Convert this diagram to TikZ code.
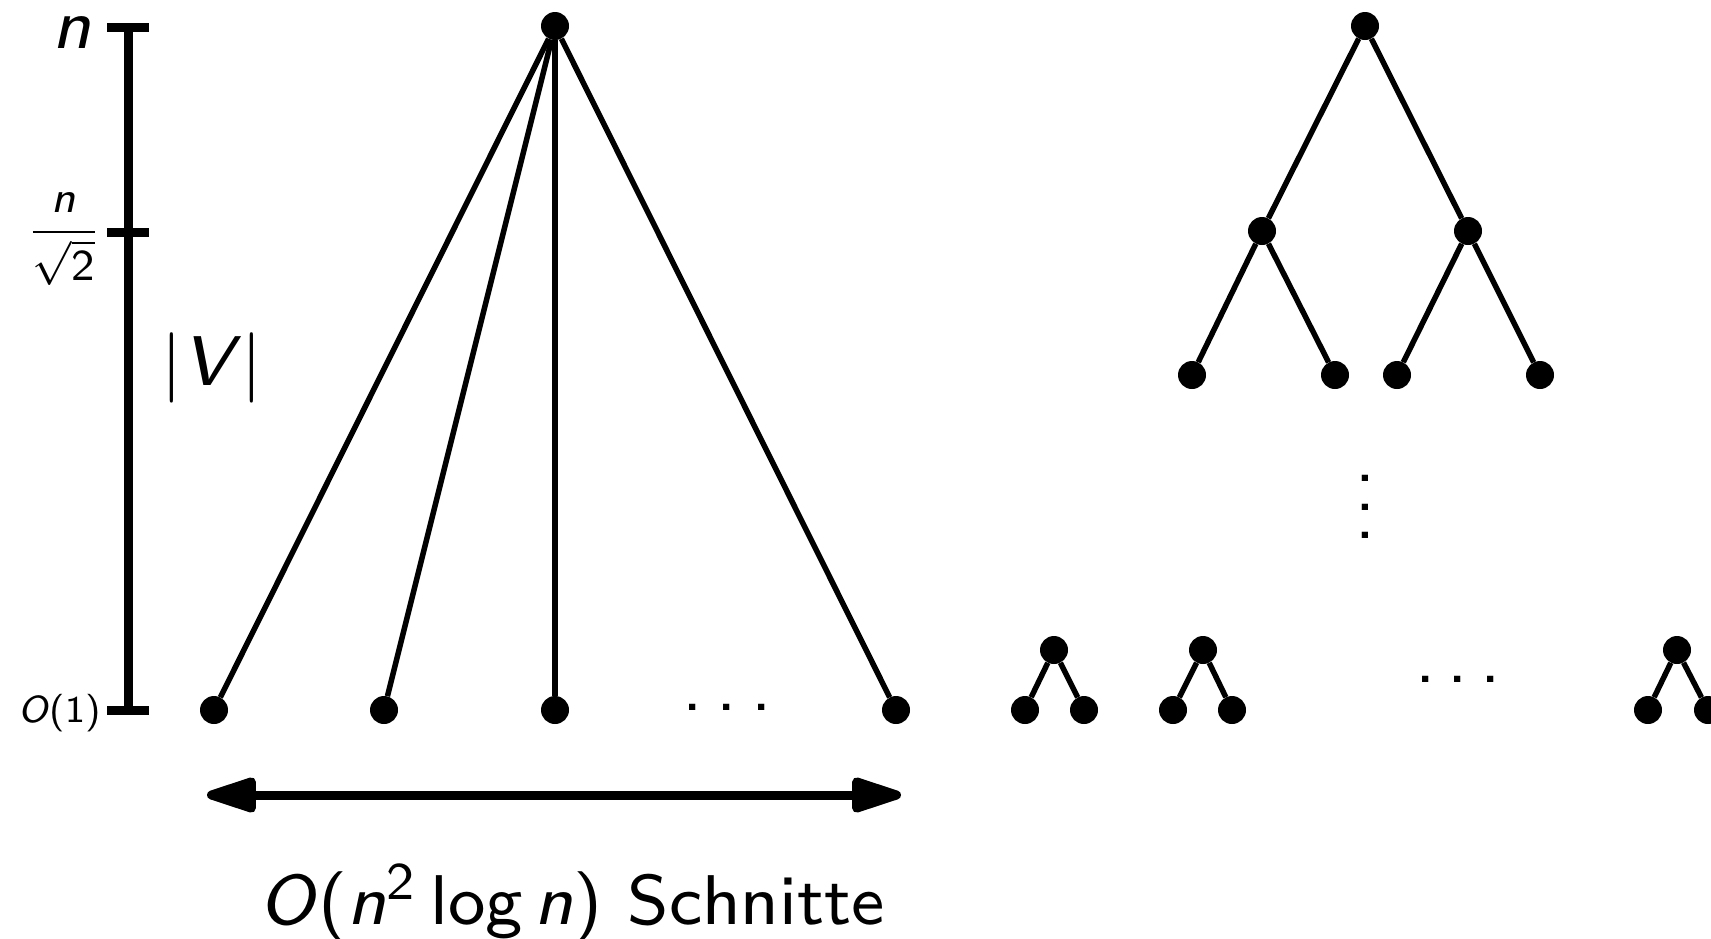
\RequirePackage{fix-cm}
\documentclass[tikz,border=0pt]{standalone}
\usetikzlibrary{arrows.meta}
\tikzset{
  vert/.style={circle,fill=black,inner sep=0pt,minimum size=28pt},
  edgeline/.style={line width=5.5pt},
  scaleline/.style={line width=9pt},
  lbl/.style={inner sep=0pt},
  bigarrow/.style={line width=9pt,{Triangle[length=60pt,width=36pt,round]}-{Triangle[length=60pt,width=36pt,round]}},
}
\newcommand{\dtxt}[2]{\scalebox{#1}{\fontsize{8}{9.6}\selectfont\sffamily #2}}
\newcommand{\sfi}[1]{\textsf{\textit{#1}}}
\begin{document}
\begin{tikzpicture}[x=1pt,y=-1pt]
\useasboundingbox (0,0) rectangle (1711,938);
% scale
\coordinate (st) at (128,27);
\coordinate (sm) at (128,232);
\coordinate (sb) at (128,710);
\draw[scaleline] (st) -- (sb);
\draw[scaleline] ([xshift=-21pt]st) -- ([xshift=21pt]st);
\draw[scaleline] ([xshift=-21pt]sm) -- ([xshift=21pt]sm);
\draw[scaleline] ([xshift=-21pt]sb) -- ([xshift=21pt]sb);
\node[lbl,anchor=base] (ln) at (72,48) {\dtxt{8.8}{\textit{n}}};
\node[lbl,anchor=base east] (lfrac) at (102,243) {\dtxt{5.5}{$\displaystyle\frac{\mbox{\sfi{n}}}{\sqrt{\mbox{\textsf{2}}}}$}};
\node[lbl,anchor=base east] (lo) at (101,722) {\dtxt{4.7}{\textit{O}(1)}};
\node[lbl] (lv) at (212,368) {\dtxt{8.8}{$|\mbox{\sfi{V}}|$}};
% big tree
\node[vert] (r) at (555,26) {};
\node[vert] (l1) at (214,710) {};
\node[vert] (l2) at (384,710) {};
\node[vert] (l3) at (555,710) {};
\node[vert] (l4) at (896,710) {};
\node[lbl] (hd) at (727,707) {\fontsize{78}{80}\selectfont\textsf{.\kern14pt.\kern14pt.}};
\foreach \l in {l1,l2,l3,l4} \draw[edgeline] (r) -- (\l);
% arrow
\coordinate (a1) at (207,795);
\coordinate (a2) at (901,795);
\draw[bigarrow] (a1) -- (a2);
\node[lbl,anchor=base] (cap) at (572,924) {\dtxt{8.8}{\textit{O}(\textit{n}\textsuperscript{2}\,log\,\textit{n}) Schnitte}};
% right tree
\node[vert] (R) at (1365,26) {};
\node[vert] (A) at (1262,231) {};
\node[vert] (B) at (1468,231) {};
\node[vert] (A1) at (1192,375) {};
\node[vert] (A2) at (1335,375) {};
\node[vert] (B1) at (1397,375) {};
\node[vert] (B2) at (1540,375) {};
\draw[edgeline] (R) -- (A);
\draw[edgeline] (R) -- (B);
\draw[edgeline] (A) -- (A1);
\draw[edgeline] (A) -- (A2);
\draw[edgeline] (B) -- (B1);
\draw[edgeline] (B) -- (B2);
\node[lbl,rotate=90] (vd) at (1365,507) {\fontsize{78}{80}\selectfont\textsf{.\kern8.3pt.\kern8.3pt.}};
% small trees
\node[vert] (t1) at (1054,650) {};
\node[vert] (t1a) at (1025,710) {};
\node[vert] (t1b) at (1084,710) {};
\node[vert] (t2) at (1203,650) {};
\node[vert] (t2a) at (1173,710) {};
\node[vert] (t2b) at (1232,710) {};
\node[vert] (t3) at (1677,650) {};
\node[vert] (t3a) at (1648,710) {};
\node[vert] (t3b) at (1708,710) {};
\draw[edgeline] (t1) -- (t1a);
\draw[edgeline] (t1) -- (t1b);
\draw[edgeline] (t2) -- (t2a);
\draw[edgeline] (t2) -- (t2b);
\draw[edgeline] (t3) -- (t3a);
\draw[edgeline] (t3) -- (t3b);
\node[lbl] (sd) at (1458,679) {\fontsize{78}{80}\selectfont\textsf{.\kern12pt.\kern12pt.}};
\end{tikzpicture}
\end{document}
